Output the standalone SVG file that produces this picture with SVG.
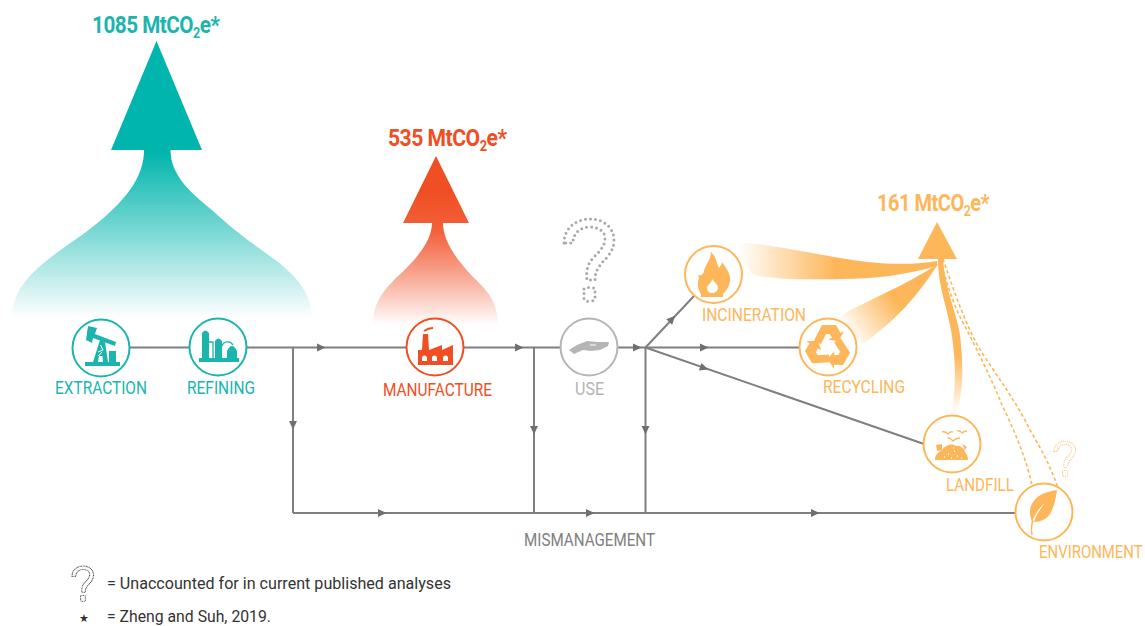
<svg xmlns="http://www.w3.org/2000/svg" xmlns:xlink="http://www.w3.org/1999/xlink" width="1145" height="626" viewBox="0 0 1145 626">
<style>
text{font-family:Roboto,"Liberation Sans",sans-serif;}
.lab{font-size:18px;}
.head{font-size:23px;font-weight:700;letter-spacing:-.55px;}
.sub{font-size:14px;}
.leg{font-size:16.5px;fill:#333;}
.teal{fill:#1bb5ae;}
.red{fill:#f04e23;}
.yel{fill:#fdb75a;}
.gry{fill:#b5b5b5;}
.ring{fill:#fff;stroke-width:2;}
.conn{fill:none;stroke:#7f7f7f;stroke-width:2;}
.dash{fill:none;stroke:#fdb75a;stroke-width:1.6;stroke-dasharray:3.5 2.5;}
.q{fill:none;stroke-linecap:round;}
</style>
<defs>
<linearGradient id="gTeal" gradientUnits="userSpaceOnUse" x1="0" y1="152" x2="0" y2="318"><stop offset="0" stop-color="#00b5ad"/><stop offset="1" stop-color="#00b5ad" stop-opacity="0"/></linearGradient>
<linearGradient id="gRed" gradientUnits="userSpaceOnUse" x1="0" y1="190" x2="0" y2="325"><stop offset="0" stop-color="#f04e23"/><stop offset="0.3" stop-color="#f2603a"/><stop offset="1" stop-color="#f04e23" stop-opacity="0"/></linearGradient>
<linearGradient id="gInc" gradientUnits="userSpaceOnUse" x1="738" y1="0" x2="835" y2="0"><stop offset="0" stop-color="#fdb75a" stop-opacity="0"/><stop offset="1" stop-color="#fdb75a"/></linearGradient>
<linearGradient id="gRec" gradientUnits="userSpaceOnUse" x1="848" y1="335" x2="895" y2="300"><stop offset="0" stop-color="#fdb75a" stop-opacity="0"/><stop offset="1" stop-color="#fdb75a"/></linearGradient>
<linearGradient id="gLan" gradientUnits="userSpaceOnUse" x1="0" y1="414" x2="0" y2="355"><stop offset="0" stop-color="#fdb75a" stop-opacity="0"/><stop offset="1" stop-color="#fdb75a"/></linearGradient>
<path id="ah" d="M-4-4L4.500 0L-4 4Z" fill="#6f6f6f"/>
<path id="qm" d="M564 243C564 228 576 219 590 219C604 219 614 228 614 240C614 252 606 258 601 264C597 269 595 273 595 280L587 280C586 272 587 264 594 257C600 251 605 246 605 238C605 231 598 227 590 227C580 227 573 233 573 243ZM584 289C584 287 595 287 595 289V299C595 302 584 302 584 299Z"/>
<path id="arr" d="M-14-6.500L-6-22H8L12.500-14L16-16L10.500-5.500L0.500-7.500L4-9.500L1.500-13H-2L-7-3Z"/>
</defs>

<g id="flows">
<path d="M156.500 41L202 150H170.500C170.500 175 190 192 212 210C235 232 255 245 278 262C298 278 312 295 312 318H12C12 295 25 278 45 262C65 245 90 232 112 210C128 195 144 175 144 150H111Z" fill="url(#gTeal)"/>
<path d="M436 156L469 223H443C443 240 455 258 473 277C488 291 498 303 498 325H373C373 303 383 291 397 277C418 258 432 240 432 223H403Z" fill="url(#gRed)"/>
<path d="M937 222L957 259H918Z" fill="#fdb75a"/>
<path d="M732 242C760 243 790 249 840 258C875 264 905 266 937 261L937 266C905 275 875 279 840 279C800 280 775 279 753 275C748 268 744 262 732 242Z" fill="url(#gInc)"/>
<path d="M937 264C915 280 880 295 847 312L840 317L862 345C895 320 915 300 938 264Z" fill="url(#gRec)"/>
<path d="M938 258C938 285 945 300 950 325C955 350 957 380 952 413H956C963 395 964 370 960 335C956 310 945 290 943 258Z" fill="url(#gLan)"/>
<path class="dash" d="M940 259C947 285 955 310 967 330C978 352 992 380 1002 405C1014 430 1027 460 1032 486"/>
<path class="dash" d="M943 259C952 285 965 325 982 353C1000 380 1018 405 1030 430C1042 450 1052 470 1058 488"/>
</g>

<g id="connectors">
<path class="conn" d="M129 347.500H190M247 347.500H407M464 347.500H561M618 347.500H800"/>
<path class="conn" d="M293 347.500V513M534 347.500V513M645.500 347.500V513M293 513H1015"/>
<path class="conn" d="M645.500 347.500L694 296M645.500 347.500L924 444"/>
<use xlink:href="#ah" href="#ah" transform="translate(321 347.500)"/>
<use xlink:href="#ah" href="#ah" transform="translate(519 347.500)"/>
<use xlink:href="#ah" href="#ah" transform="translate(637 347.500)"/>
<use xlink:href="#ah" href="#ah" transform="translate(704 347.500)"/>
<use xlink:href="#ah" href="#ah" transform="translate(704 368) rotate(19)"/>
<use xlink:href="#ah" href="#ah" transform="translate(672 319) rotate(-47)"/>
<use xlink:href="#ah" href="#ah" transform="translate(293 425) rotate(90)"/>
<use xlink:href="#ah" href="#ah" transform="translate(534 430) rotate(90)"/>
<use xlink:href="#ah" href="#ah" transform="translate(645.500 430) rotate(90)"/>
<use xlink:href="#ah" href="#ah" transform="translate(382 513)"/>
<use xlink:href="#ah" href="#ah" transform="translate(590 513)"/>
<use xlink:href="#ah" href="#ah" transform="translate(815 513)"/>
</g>

<g id="values">
<text class="head teal" transform="translate(92 33) scale(.9 1)">1085 MtCO<tspan class="sub" dy="5">2</tspan><tspan dy="-5">e*</tspan></text>
<text class="head red" transform="translate(388 146) scale(.92 1)">535 MtCO<tspan class="sub" dy="5">2</tspan><tspan dy="-5">e*</tspan></text>
<text class="head yel" transform="translate(877 211) scale(.87 1)">161 MtCO<tspan class="sub" dy="5">2</tspan><tspan dy="-5">e*</tspan></text>
</g>

<g id="extraction">
<circle class="ring" cx="101" cy="348" r="28.500" stroke="#1bb5ae"/>
<path class="teal" d="M88 326L97 328L95 334L116 342L115 346L93 338L92 343L86 340ZM100 340L105 342L108 362H103L102.500 356L99 356L98 362H93ZM85 362H120V366H85ZM109 351H116V362H109Z"/>
<path d="M100.500 345L103 350L98 352M98.500 356L102 352" stroke="#fff" fill="none" stroke-width="1"/>
<text class="lab teal" x="55" y="394" textLength="92" lengthAdjust="spacingAndGlyphs">EXTRACTION</text>
</g>
<g id="refining">
<circle class="ring" cx="218" cy="347" r="28.500" stroke="#1bb5ae"/>
<path class="teal" d="M199 358H239V362H199ZM202 333Q205 328 209 333V358H202ZM215 341Q218.500 336 222 341V358H215ZM227 358V351Q232 341 237 351V358Z"/>
<path d="M209 342H213V358M222 346A6 6 0 0 1 233 345" stroke="#1bb5ae" fill="none" stroke-width="1.300"/>
<text class="lab teal" x="187" y="394" textLength="68" lengthAdjust="spacingAndGlyphs">REFINING</text>
</g>
<g id="manufacture">
<circle class="ring" cx="435" cy="347" r="28.500" stroke="#f04e23"/>
<path class="red" d="M418 365V350H422L423 334H428L429 350L442 345V350L453 345V365Z"/>
<path d="M424 331Q428 328 433 328" fill="none" stroke="#f04e23" stroke-width="2"/>
<path fill="#fff" d="M422 361V358A2.500 2.500 0 0 1 427 358V361ZM432 361V358A2.500 2.500 0 0 1 437 358V361ZM443 361V358A2.500 2.500 0 0 1 448 358V361Z"/>
<text class="lab red" x="383" y="396" textLength="109" lengthAdjust="spacingAndGlyphs">MANUFACTURE</text>
</g>
<g id="use">
<circle class="ring" cx="589" cy="347" r="28.500" stroke="#b5b5b5"/>
<path class="gry" d="M569 350L577 345L587 341L598 342L609 342L608 346L600 350L590 351L583 350L574 354Z"/>
<path d="M590 345H596" stroke="#fff" stroke-width="1"/>
<text class="lab gry" x="575" y="395" textLength="29" lengthAdjust="spacingAndGlyphs">USE</text>
<use xlink:href="#qm" href="#qm" class="q" stroke="#aaa" stroke-width="3" stroke-dasharray="0 5"/>
</g>
<g id="incineration">
<circle class="ring" cx="713.500" cy="274.500" r="28.500" stroke="#fdb75a"/>
<path class="yel" d="M711 252C717 258 716 262 719 268C721 265 722 264 722 262C726 268 731 274 730 281C729 287 726 291 723 294V297H701V294C698 290 697 284 699 278L698 275C701 276 703 275 704 271C705 265 711 260 711 252Z"/>
<path fill="#fff" d="M712 279C714 282 718 284 718 288C718 291 715 293 712 293C709 293 707 291 707 288C707 285 709 285 710 283C711 282 712 281 712 279Z"/>
<text class="lab yel" x="702" y="321" textLength="104" lengthAdjust="spacingAndGlyphs">INCINERATION</text>
</g>
<g id="recycling">
<circle class="ring" cx="828" cy="347" r="28.500" stroke="#fdb75a"/>
<g class="yel">
<use xlink:href="#arr" href="#arr" transform="translate(828 347)"/>
<use xlink:href="#arr" href="#arr" transform="translate(828 347) rotate(120)"/>
<use xlink:href="#arr" href="#arr" transform="translate(828 347) rotate(240)"/>
</g>
<text class="lab yel" x="823" y="393" textLength="82" lengthAdjust="spacingAndGlyphs">RECYCLING</text>
</g>
<g id="landfill">
<circle class="ring" cx="952" cy="444" r="28.500" stroke="#fdb75a"/>
<path class="yel" d="M935 460C935 455 938 452 942 450C945 445 952 443 956 446C960 445 965 449 965 452C967 454 968 457 968 460Z"/>
<path class="yel" d="M936 445L942 444L942 450L937 451ZM962 444L967 447L965 450Z"/>
<path d="M942 432Q945 431 948 434Q950 431 953 432M957 431Q960 430 962 433Q964 431 967 431M947 438Q950 437 953 441Q956 438 960 438" fill="none" stroke="#fdb75a" stroke-width="1.300"/>
<path d="M944 457H945M948 454H949M951 458H952M954 451H955M957 456H958M961 458H962M953 448H954" stroke="#fff" stroke-width="1.300"/>
<text class="lab yel" x="946" y="491" textLength="68" lengthAdjust="spacingAndGlyphs">LANDFILL</text>
</g>
<g id="environment">
<circle class="ring" cx="1044" cy="512" r="28.500" stroke="#fdb75a"/>
<path class="yel" d="M1057 490C1044 492 1035 496 1031 506C1029 511 1030 517 1032 522C1036 512 1040 507 1045 503C1041 508 1037 513 1034 522C1042 522 1049 518 1052 510C1055 503 1056 497 1057 490Z"/>
<path d="M1033 520C1031 526 1031 530 1032 535" fill="none" stroke="#fdb75a" stroke-width="1.500"/>
<text class="lab yel" transform="translate(1039 558) scale(.83 1)">ENVIRONMENT</text>
<use xlink:href="#qm" href="#qm" class="q" stroke="#fdb75a" stroke-width="2.600" stroke-dasharray="0 4.500" transform="translate(1054 441) scale(.43) translate(-564 -219)"/>
</g>

<g id="mismanagement-label"><text class="lab" fill="#808080" x="524" y="546" textLength="131" lengthAdjust="spacingAndGlyphs">MISMANAGEMENT</text></g>
<g id="legend">
<use xlink:href="#qm" href="#qm" class="q" stroke="#555" stroke-width="2.800" stroke-dasharray="0 3.600" transform="translate(72 566) scale(.43) translate(-564 -219)"/>
<text class="leg" x="107" y="589" textLength="344" lengthAdjust="spacingAndGlyphs">= Unaccounted for in current published analyses</text>
<text x="79" y="622" font-size="11" fill="#333" style="font-family:'DejaVu Sans',sans-serif">★</text>
<text class="leg" x="107" y="622" textLength="164" lengthAdjust="spacingAndGlyphs">= Zheng and Suh, 2019.</text>
</g>
</svg>
